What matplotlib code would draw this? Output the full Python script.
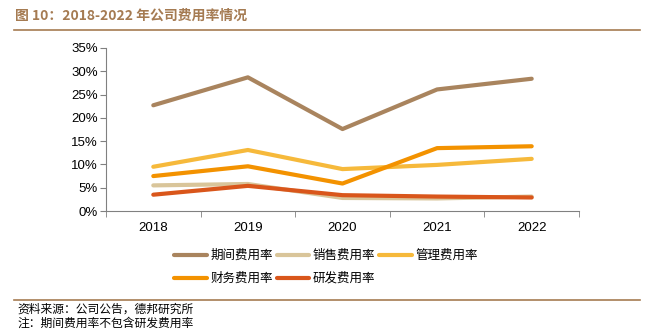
import matplotlib
matplotlib.use('Agg')
import matplotlib.pyplot as plt

plt.rcParams['font.family'] = ['Liberation Sans', 'Noto Sans CJK SC', 'DejaVu Sans']

# Data: expense ratios (%) by year
years = ['2018', '2019', '2020', '2021', '2022']
period_rate = [22.7, 28.7, 17.6, 26.1, 28.4]
sales_rate = [5.5, 5.8, 2.8, 2.7, 3.1]
admin_rate = [9.5, 13.1, 9.0, 9.9, 11.2]
finance_rate = [7.5, 9.6, 5.9, 13.5, 13.9]
rd_rate = [3.5, 5.4, 3.4, 3.1, 2.9]

labels = ['期间费用率', '销售费用率', '管理费用率', '财务费用率', '研发费用率']
colors = ['#A9845E', '#D9C59A', '#F6B93B', '#F39200', '#D9561B']
series = [period_rate, sales_rate, admin_rate, finance_rate, rd_rate]

brown = '#A57B52'

fig = plt.figure(figsize=(6.61, 3.29), dpi=100)
ax = fig.add_axes([106 / 661, 1 - 211 / 329, 473 / 661, 163 / 329])

x = range(len(years))
handles = []
for vals, lab, col in zip(series, labels, colors):
    h, = ax.plot(x, vals, color=col, lw=3, solid_capstyle='round', label=lab)
    handles.append(h)

ax.set_xlim(-0.5, len(years) - 0.5)
ax.set_ylim(0, 35)
ax.set_yticks(range(0, 36, 5))
ax.set_yticklabels(['%d%%' % v for v in range(0, 36, 5)], fontsize=9.5)
ax.set_xticks(list(x))
ax.set_xticklabels(years, fontsize=9.5)
ax.set_xticks([i - 0.5 for i in range(len(years) + 1)], minor=True)
ax.tick_params(axis='x', which='major', length=0, pad=8)
ax.tick_params(axis='x', which='minor', length=4, color='#808080')
ax.tick_params(axis='y', length=4, color='#808080', pad=2)
for s in ['top', 'right']:
    ax.spines[s].set_visible(False)
for s in ['left', 'bottom']:
    ax.spines[s].set_color('#808080')

# legend fills column-wise, so reorder to read row by row
order = [0, 3, 1, 4, 2]
fig.legend(handles=[handles[i] for i in order], labels=[labels[i] for i in order],
           ncol=3, frameon=False,
           loc='upper left', bbox_to_anchor=(174 / 661, 1 - 249 / 329),
           borderpad=0, borderaxespad=0, handlelength=2.6, handletextpad=0.3,
           columnspacing=0.3, labelspacing=0.8,
           prop={'family': 'Noto Sans CJK SC', 'size': 9})

# Header, rules and footnotes
fig.text(15 / 661, 1 - 16 / 329, '图 10：2018-2022 年公司费用率情况', color=brown,
         fontsize=10, fontweight='bold', va='center',
         family=['Noto Sans CJK SC', 'DejaVu Sans'])
fig.add_artist(plt.Line2D([14 / 661, 640 / 661], [1 - 30 / 329] * 2, color=brown, lw=1.2))
fig.add_artist(plt.Line2D([14 / 661, 640 / 661], [1 - 300 / 329] * 2, color=brown, lw=1.2))
fig.text(17 / 661, 1 - 309 / 329, '资料来源：公司公告，德邦研究所', fontsize=8.5, va='center',
         family=['Noto Sans CJK SC', 'DejaVu Sans'])
fig.text(17 / 661, 1 - 323 / 329, '注：期间费用率不包含研发费用率', fontsize=8.5, va='center',
         family=['Noto Sans CJK SC', 'DejaVu Sans'])

fig.savefig('out.png', dpi=100)
